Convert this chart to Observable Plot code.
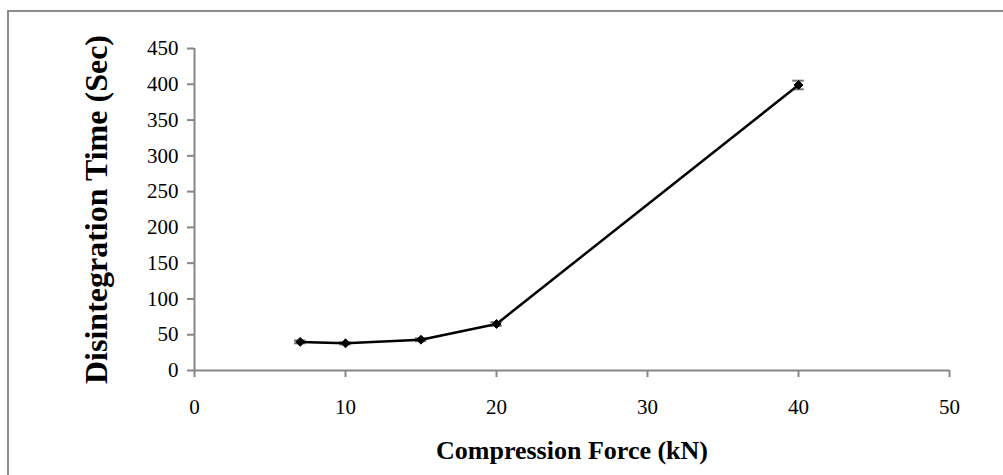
<!DOCTYPE html>
<html>
<head>
<meta charset="utf-8">
<script src="https://cdn.jsdelivr.net/npm/d3@7"></script>
<script src="https://cdn.jsdelivr.net/npm/@observablehq/plot@0.6"></script>
<style>
  html, body { margin: 0; padding: 0; background: #fff; }
  #wrap { position: relative; width: 1003px; height: 475px; overflow: hidden; }
  #frame { position: absolute; left: 7px; top: 10px; width: 1100px; height: 600px;
           border-left: 2px solid #8c8c8c; border-top: 2px solid #8c8c8c; box-sizing: border-box; }
  #chart { position: absolute; left: 0; top: 0; }
</style>
</head>
<body>
<div id="wrap"><div id="frame"></div><div id="chart"></div></div>
<script>
const force = [7, 10, 15, 20, 40];
const time = [40, 38, 43, 65, 399];
const err = [2, 1.5, 2, 2.5, 6];
const xTicks = [0, 10, 20, 30, 40, 50];
const yTicks = [0, 50, 100, 150, 200, 250, 300, 350, 400, 450];

const data = force.map((f, i) => ({x: f, y: time[i], e: err[i]}));
const axisGrey = "#868686";

const chart = Plot.plot({
  width: 1003,
  height: 475,
  marginLeft: 194,
  marginRight: 54,
  marginTop: 48,
  marginBottom: 105,
  style: {fontFamily: "'Liberation Serif', 'Times New Roman', serif", fontSize: "21px", color: "#000", background: "transparent"},
  x: {domain: [0, 50]},
  y: {domain: [0, 450]},
  marks: [
    Plot.ruleX([0], {stroke: axisGrey, strokeWidth: 2}),
    Plot.ruleY([0], {stroke: axisGrey, strokeWidth: 2}),
    Plot.axisX(xTicks, {tickSize: 7, tickPadding: 22, stroke: axisGrey, strokeWidth: 2, fill: "#000", fontSize: 21,
      label: "Compression Force (kN)", labelAnchor: "center", labelArrow: "none", labelOffset: 88}),
    Plot.axisY(yTicks, {tickSize: 7, tickPadding: 9, stroke: axisGrey, strokeWidth: 2, fill: "#000", fontSize: 21,
      label: "Disintegration Time (Sec)", labelAnchor: "center", labelArrow: "none", labelOffset: 110}),
    Plot.ruleX(data, {x: "x", y1: d => d.y - d.e, y2: d => d.y + d.e, stroke: "#555", strokeWidth: 1.5}),
    Plot.ruleY(data, {y: d => d.y - d.e, x1: d => d.x - 0.38, x2: d => d.x + 0.38, stroke: "#777", strokeWidth: 2}),
    Plot.ruleY(data, {y: d => d.y + d.e, x1: d => d.x - 0.38, x2: d => d.x + 0.38, stroke: "#777", strokeWidth: 2}),
    Plot.line(data, {x: "x", y: "y", stroke: "#000", strokeWidth: 2.5}),
    Plot.dot(data, {x: "x", y: "y", symbol: "diamond2", r: 4, fill: "#000", stroke: "#000", strokeWidth: 1})
  ]
});
// Bold axis titles
chart.querySelectorAll("g[aria-label='x-axis label'] text").forEach(t => {
  t.style.fontWeight = "bold";
  t.style.fontSize = "26px";
});
chart.querySelectorAll("g[aria-label='y-axis label'] text").forEach(t => {
  t.style.fontWeight = "bold";
  t.style.fontSize = "32px";
});
document.getElementById("chart").appendChild(chart);
</script>
</body>
</html>
